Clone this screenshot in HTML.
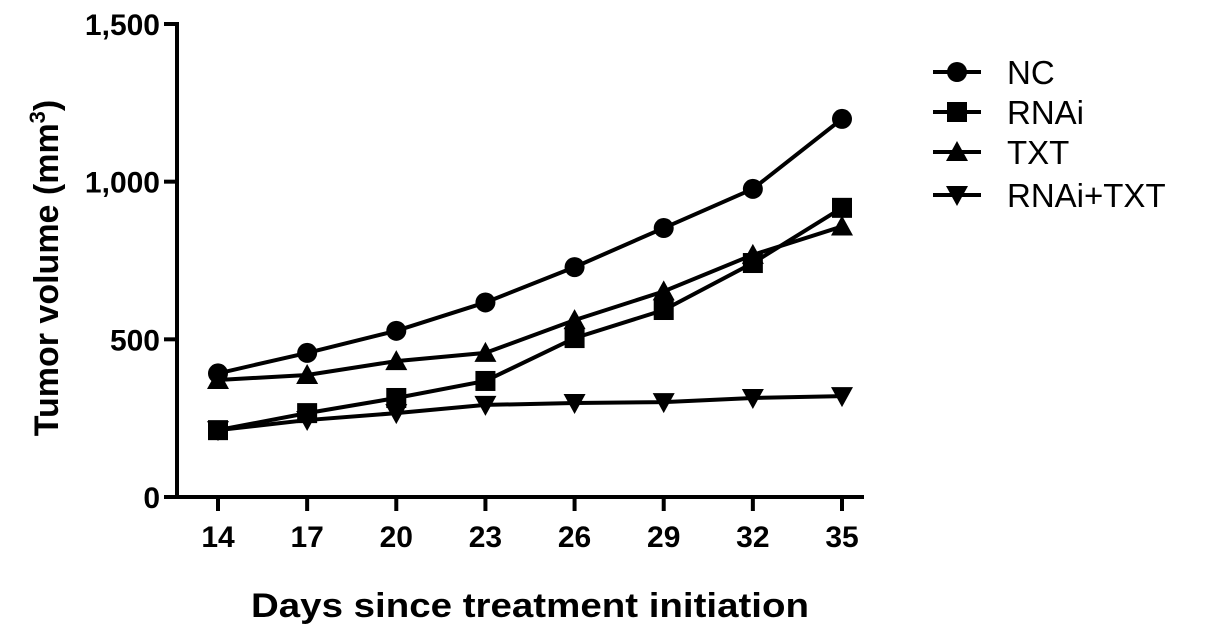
<!DOCTYPE html>
<html><head><meta charset="utf-8"><style>
body{margin:0;background:#fff;}
svg text{font-family:"Liberation Sans",Arial,sans-serif;fill:#000;}
</style></head><body>
<svg id="chart" width="1205" height="637" viewBox="0 0 1205 637" xmlns="http://www.w3.org/2000/svg">
<g id="axes"></g><g id="series"></g><g id="legend"></g>
<text x="530" y="617" text-anchor="middle" font-size="34" font-weight="bold" textLength="558" lengthAdjust="spacingAndGlyphs">Days since treatment initiation</text>
<text transform="translate(58,268) rotate(-90)" text-anchor="middle" font-size="34" font-weight="bold">Tumor volume (mm<tspan dy="-13" font-size="22">3</tspan><tspan dy="13">)</tspan></text>
</svg>
<script>
const days=[14,17,20,23,26,29,32,35];
const yTicks=[0,500,1000,1500];
const yTickLabels=["0","500","1,000","1,500"];
const seriesNames=["NC","RNAi","TXT","RNAi+TXT"];
const ncValues=[392,457,527,617,729,853,977,1199];
const rnaiValues=[212,266,314,368,504,593,742,917];
const txtValues=[371,387,431,457,561,652,768,858];
const rnaiTxtValues=[212,244,266,292,298,301,314,320];
const markers=["circle","square","triangle","down"];

const NS="http://www.w3.org/2000/svg";
const xS=d=>218+(d-14)*(842-218)/21;
const yS=v=>497-v*(473/1500);
function mk(tag,attrs,parent){const e=document.createElementNS(NS,tag);for(const k in attrs)e.setAttribute(k,attrs[k]);parent.appendChild(e);return e;}
const axes=document.getElementById('axes');
let e=mk('line',{x1:177,y1:22,x2:177,y2:499,stroke:'#000','stroke-width':4},axes);


e=mk('line',{x1:175,y1:497,x2:864,y2:497,stroke:'#000','stroke-width':4},axes);


yTicks.forEach((v,i)=>{
 const t=mk('line',{x1:164,y1:yS(v),x2:177,y2:yS(v),stroke:'#000','stroke-width':4},axes);
 
 
 const l=mk('text',{x:160,y:yS(v)+11,'text-anchor':'end','font-size':30,'font-weight':'bold'},axes);
 l.textContent=yTickLabels[i];
 
 
});
days.forEach(d=>{
 const t=mk('line',{x1:xS(d),y1:497,x2:xS(d),y2:511,stroke:'#000','stroke-width':4},axes);
 
 
 const l=mk('text',{x:xS(d),y:547,'text-anchor':'middle','font-size':30,'font-weight':'bold'},axes);
 l.textContent=d;
 
 
});
function marker(type,x,y,parent){
 let m;
 if(type==='circle')m=mk('circle',{cx:x,cy:y,r:10},parent);
 else if(type==='square')m=mk('rect',{x:x-10,y:y-10,width:20,height:20},parent);
 else if(type==='triangle')m=mk('polygon',{points:`${x},${y-11} ${x-11},${y+9} ${x+11},${y+9}`},parent);
 else m=mk('polygon',{points:`${x},${y+11} ${x-11},${y-9} ${x+11},${y-9}`},parent);
 m.setAttribute('fill','#000');
 return m;
}
const all=[ncValues,rnaiValues,txtValues,rnaiTxtValues];
const sg=document.getElementById('series');
all.forEach((vals,si)=>{
 const g=mk('g',{},sg);
 
 
 const pl=mk('polyline',{points:vals.map((v,i)=>xS(days[i])+','+yS(v)).join(' '),fill:'none',stroke:'#000','stroke-width':4},g);
 
 
 vals.forEach((v,i)=>{
  const m=marker(markers[si],xS(days[i]),yS(v),g);
  
  
 });
});
const lg=document.getElementById('legend');
const ly=[72,112,152,195];
seriesNames.forEach((n,i)=>{
 const g=mk('g',{},lg);
 
 
 mk('line',{x1:933,y1:ly[i],x2:981,y2:ly[i],stroke:'#000','stroke-width':4},g);
 marker(markers[i],957,ly[i],g);
 const t=mk('text',{x:1007,y:ly[i]+12,'font-size':33},g);
 t.textContent=n;
 
 
});
</script>
</body></html>
